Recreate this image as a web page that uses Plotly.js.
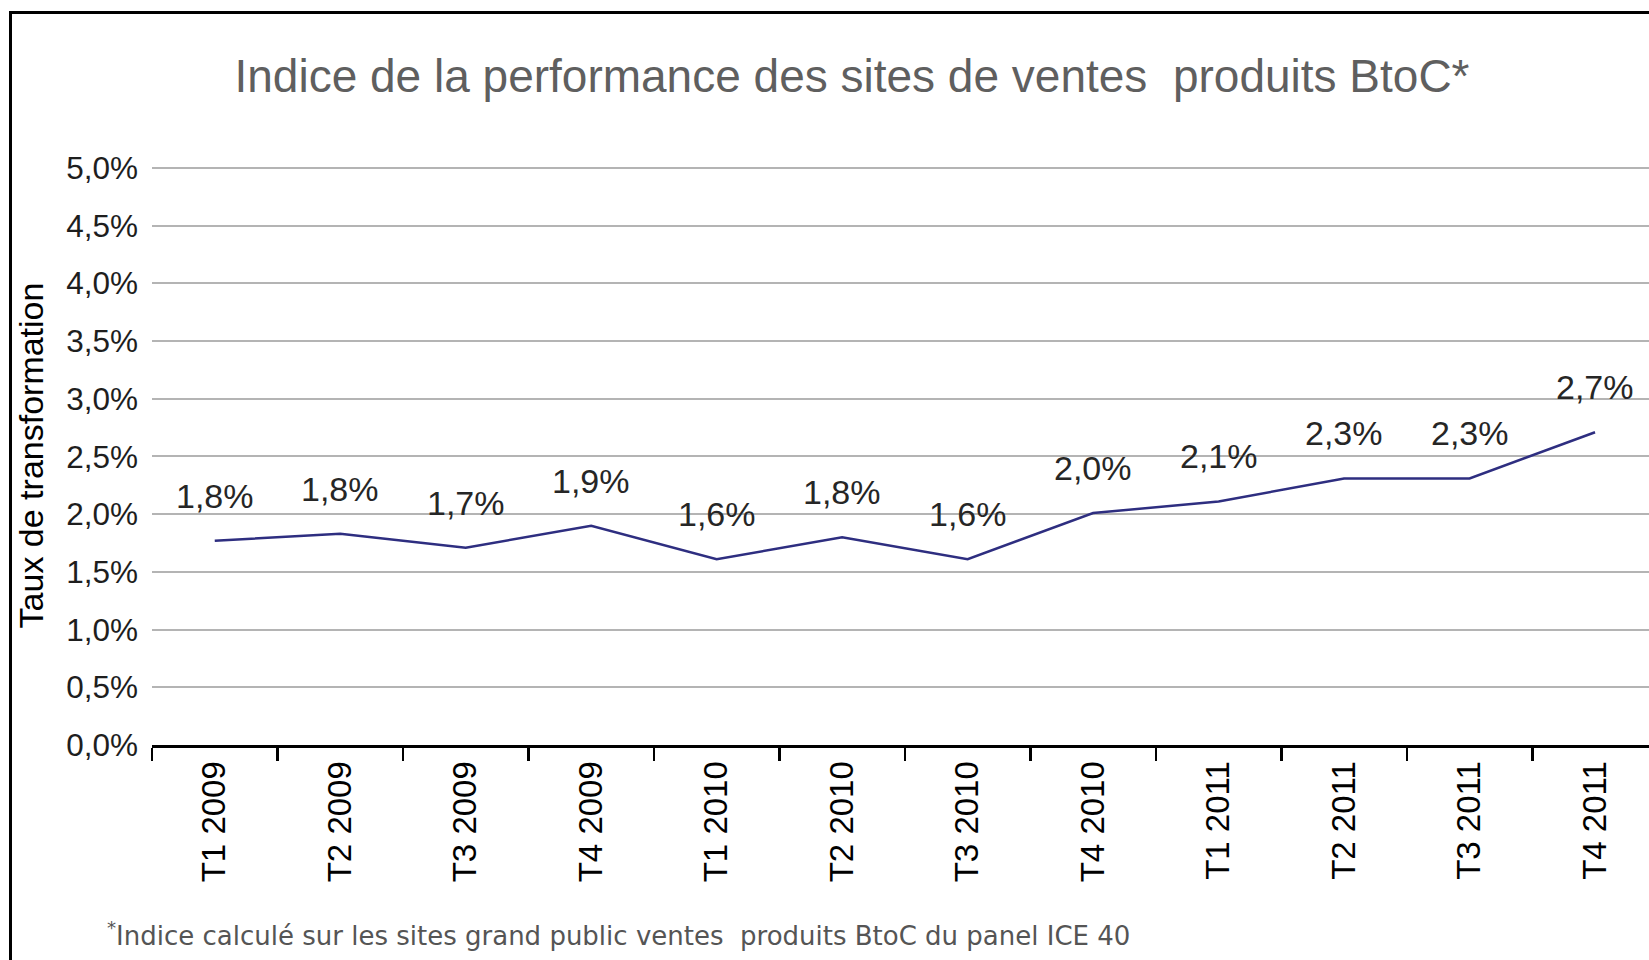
<!DOCTYPE html>
<html>
<head>
<meta charset="utf-8">
<script src="https://cdn.plot.ly/plotly-3.0.1.min.js"></script>
<style>
  html, body { margin: 0; padding: 0; background: #fff; overflow: hidden; }
  #chart { position: absolute; left: 0; top: 0; width: 1649px; height: 960px; }
  #frame { position: absolute; left: 9px; top: 11px; width: 2000px; height: 2000px;
           border: 3px solid #000; pointer-events: none; }
</style>
</head>
<body>
<div id="chart"></div>
<div id="frame"></div>
<script>
const categories = ['T1 2009', 'T2 2009', 'T3 2009', 'T4 2009',
                    'T1 2010', 'T2 2010', 'T3 2010', 'T4 2010',
                    'T1 2011', 'T2 2011', 'T3 2011', 'T4 2011'];
const tauxValues = [1.77, 1.83, 1.71, 1.90, 1.61, 1.80, 1.61, 2.01, 2.11, 2.31, 2.31, 2.71];
const tauxLabels = ['1,8%', '1,8%', '1,7%', '1,9%', '1,6%', '1,8%', '1,6%', '2,0%', '2,1%', '2,3%', '2,3%', '2,7%'];
const chartTitle = 'Indice de la performance des sites de ventes  produits BtoC*';
const yTitle = 'Taux de transformation';
const footnote = '<sup>*</sup>Indice calculé sur les sites grand public ventes  produits BtoC du panel ICE 40';

const trace = {
  x: categories,
  y: tauxValues,
  type: 'scatter',
  mode: 'lines',
  line: { color: '#2e2e80', width: 2.5 },
  hoverinfo: 'x+y',
  showlegend: false
};

const labelAnnotations = categories.map((c, i) => ({
  x: c, y: tauxValues[i], xref: 'x', yref: 'y',
  text: tauxLabels[i], showarrow: false,
  yshift: 45, xanchor: 'center', yanchor: 'middle',
  font: { family: 'Liberation Sans, Arial, sans-serif', size: 34, color: '#262626' }
}));

const layout = {
  width: 1649, height: 960,
  margin: { l: 152, r: 0, t: 166, b: 215, pad: 0 },
  paper_bgcolor: '#ffffff',
  plot_bgcolor: '#ffffff',
  separators: ', ',
  title: {
    text: chartTitle,
    x: 852 / 1649, xanchor: 'center', xref: 'container',
    y: 1 - 76 / 960, yanchor: 'middle', yref: 'container',
    font: { family: 'Liberation Sans, Arial, sans-serif', size: 46, color: '#5f5f5f' }
  },
  xaxis: {
    type: 'category',
    range: [-0.5, 11.43],
    showgrid: false,
    zeroline: false,
    showline: true, linecolor: '#000', linewidth: 3,
    ticks: 'outside', tickson: 'boundaries', ticklen: 13, tickwidth: 2.5, tickcolor: '#000',
    tickangle: -90,
    tickfont: { family: 'Liberation Sans, Arial, sans-serif', size: 33, color: '#000' },
    fixedrange: true
  },
  yaxis: {
    range: [0, 5.017],
    dtick: 0.5, tick0: 0,
    tickformat: '.1f', ticksuffix: '%',
    showgrid: true, gridcolor: '#b4b4b4', gridwidth: 2,
    zeroline: false, showline: false,
    ticks: '', ticklabelstandoff: 13,
    tickfont: { family: 'Liberation Sans, Arial, sans-serif', size: 31.5, color: '#1e1e1e' },
    title: {
      text: yTitle, standoff: 12,
      font: { family: 'Liberation Sans, Arial, sans-serif', size: 34, color: '#000' }
    },
    fixedrange: true
  },
  annotations: labelAnnotations.concat([{
    xref: 'paper', yref: 'paper',
    x: (105 - 152) / 1497, y: (745 - 934) / 579,
    xanchor: 'left', yanchor: 'middle',
    text: footnote, showarrow: false,
    font: { family: 'DejaVu Sans, sans-serif', size: 26, color: '#555' }
  }])
};

Plotly.newPlot('chart', [trace], layout, { displayModeBar: false, staticPlot: true });
</script>
</body>
</html>
